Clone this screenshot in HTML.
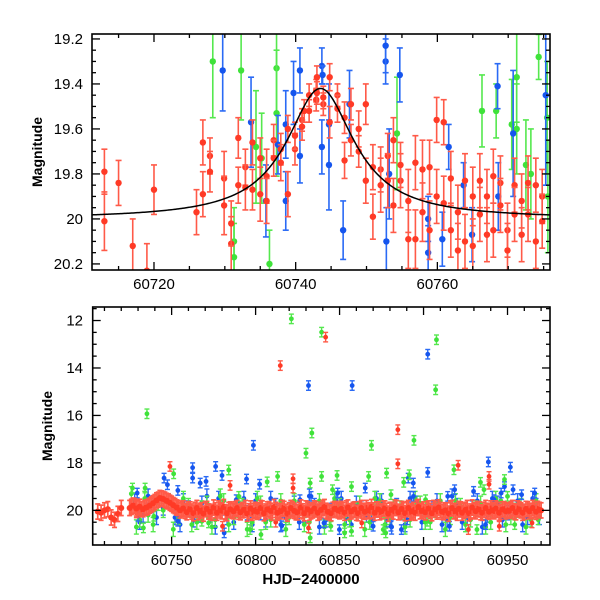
<!DOCTYPE html>
<html><head><meta charset="utf-8">
<style>
html,body{margin:0;padding:0;background:#fff;}
svg{display:block;}
text{font-family:"Liberation Sans",sans-serif;fill:#000;}
</style></head>
<body>
<svg id="chart" width="600" height="600" viewBox="0 0 600 600" xmlns="http://www.w3.org/2000/svg">
<defs>
<clipPath id="clipTop"><rect x="92" y="34" width="458" height="236"/></clipPath>
<clipPath id="clipBot"><rect x="92" y="307" width="458" height="238"/></clipPath>
</defs>
<g id="topPanel"></g>
<g id="botPanel"></g>
</svg>
<script>
// ---------- TOP PANEL DATA ----------
const redT=[60713.0,60713.0,60715.0,60717.0,60719.0,60720.0,60726.0,60726.9,60726.9,60727.9,60727.9,60729.9,60729.9,60730.9,60730.9,60731.9,60731.9,60732.9,60732.9,60733.9,60733.9,60735.0,60735.0,60735.9,60735.9,60736.9,60736.9,60737.9,60737.9,60738.9,60738.9,60739.9,60739.9,60740.9,60740.9,60741.9,60741.9,60742.9,60742.9,60743.9,60743.9,60741.2,60743.0,60743.0,60744.8,60744.8,60745.9,60745.9,60746.9,60746.9,60747.8,60747.8,60748.9,60748.9,60749.9,60749.9,60750.9,60750.9,60752.0,60752.0,60753.0,60753.0,60753.8,60753.8,60754.8,60754.8,60755.9,60755.9,60756.9,60756.9,60757.9,60757.9,60758.9,60758.9,60759.9,60759.9,60760.9,60760.9,60761.9,60761.9,60762.9,60762.9,60763.9,60763.9,60765.0,60765.0,60766.0,60766.0,60767.0,60767.0,60767.9,60767.9,60768.9,60768.9,60769.9,60769.9,60770.9,60770.9,60771.9,60771.9,60772.8,60772.8,60773.9,60773.9,60774.8,60774.8];
const redM=[19.79,20.01,19.84,20.12,20.23,19.87,19.97,19.89,19.66,19.72,19.79,19.82,19.94,20.11,20.02,19.64,19.85,19.77,19.86,19.66,19.87,19.73,19.89,19.81,19.92,19.65,19.73,19.69,19.75,19.89,19.60,19.69,19.63,19.56,19.59,19.52,19.45,19.43,19.47,19.49,19.46,19.52,19.44,19.37,19.37,19.57,19.45,19.51,19.55,19.74,19.49,19.65,19.60,19.70,19.49,19.83,19.77,19.99,19.78,19.85,19.72,19.83,19.65,19.94,19.83,19.76,19.92,20.09,19.75,20.09,19.78,19.97,19.77,20.05,19.56,19.90,19.57,19.93,19.82,20.05,19.97,20.14,19.83,20.10,19.90,20.12,19.83,19.98,19.90,20.07,19.81,20.05,19.84,19.94,20.05,20.14,19.85,19.98,19.92,20.07,19.84,19.98,19.85,20.10,19.90,20.01];
const redE=[0.10,0.13,0.10,0.12,0.12,0.11,0.10,0.10,0.10,0.08,0.09,0.12,0.13,0.12,0.10,0.09,0.08,0.08,0.10,0.10,0.09,0.09,0.12,0.12,0.10,0.07,0.08,0.07,0.08,0.10,0.06,0.07,0.06,0.05,0.06,0.05,0.05,0.05,0.05,0.05,0.05,0.05,0.05,0.05,0.06,0.07,0.05,0.06,0.07,0.08,0.07,0.07,0.08,0.07,0.09,0.10,0.10,0.10,0.10,0.12,0.10,0.12,0.10,0.12,0.12,0.10,0.14,0.13,0.12,0.13,0.13,0.13,0.12,0.13,0.10,0.12,0.10,0.12,0.12,0.12,0.12,0.12,0.12,0.12,0.13,0.12,0.12,0.12,0.12,0.12,0.12,0.12,0.12,0.12,0.12,0.12,0.12,0.12,0.12,0.12,0.12,0.12,0.12,0.12,0.12,0.12];
const blueT=[60729.7,60733.7,60735.8,60737.5,60738.6,60738.6,60739.7,60740.6,60740.6,60743.7,60743.7,60744.7,60744.7,60743.8,60746.7,60747.6,60752.7,60752.7,60754.7,60753.2,60752.8,60758.7,60758.7,60760.7,60761.6,60763.7,60764.9,60768.5,60768.6,60770.7,60775.3];
const blueM=[19.34,19.57,19.92,19.67,19.92,19.58,19.44,19.72,19.34,19.32,19.68,19.58,19.76,19.36,20.05,19.49,19.30,19.23,19.36,19.80,20.10,20.00,20.15,20.09,19.68,19.85,20.07,19.41,19.90,19.62,19.45];
const blueE=[0.18,0.20,0.16,0.13,0.13,0.15,0.14,0.12,0.10,0.08,0.12,0.18,0.20,0.04,0.13,0.15,0.10,0.12,0.12,0.20,0.15,0.10,0.12,0.12,0.10,0.10,0.12,0.10,0.15,0.28,0.40];
const greenT=[60728.3,60732.3,60734.4,60735.2,60731.3,60731.3,60737.3,60737.3,60736.3,60754.3,60766.3,60768.3,60771.2,60771.2,60774.3,60772.5,60773.2,60770.5,60775.5,60775.6];
const greenM=[19.30,19.34,19.68,19.73,20.10,20.17,19.33,19.53,20.20,19.62,19.52,19.52,19.37,19.60,19.28,19.76,19.80,19.58,19.55,19.90];
const greenE=[0.25,0.22,0.25,0.20,0.15,0.15,0.20,0.28,0.15,0.25,0.16,0.12,0.20,0.20,0.10,0.20,0.20,0.20,0.25,0.25];
const modelPeakT=[60743.5], modelPeakMag=[19.42], modelBaseMag=[20.0], modelWidth=[5.8];
const topXTicks=[60720,60740,60760];
const topYTicks=[19.2,19.4,19.6,19.8,20,20.2];
const topYTickLabels=["19.2","19.4","19.6","19.8","20","20.2"];

// ---------- BOTTOM PANEL DATA ----------
const redBandT=[60706,60708,60710,60712,60714,60716,60718,60720,60726,60728,60730,60732,60734,60736,60738,60740,60742,60744,60746,60748,60750,60752,60754,60756,60758,60760,60762,60764,60766,60768,60770,60772,60774,60776,60778,60780,60782,60784,60786,60788,60790,60792,60794,60796,60798,60800,60802,60804,60806,60808,60810,60812,60814,60816,60818,60820,60822,60824,60826,60828,60830,60832,60834,60836,60838,60840,60842,60844,60846,60848,60850,60852,60854,60856,60858,60860,60862,60864,60866,60868,60870,60872,60874,60876,60878,60880,60882,60884,60886,60888,60890,60892,60894,60896,60898,60900,60902,60904,60906,60908,60910,60912,60914,60916,60918,60920,60922,60924,60926,60928,60930,60932,60934,60936,60938,60940,60942,60944,60946,60948,60950,60952,60954,60956,60958,60960,60962,60964,60966,60968,60970];
const redBandM=[20.05,20.10,20.00,19.95,20.30,20.40,20.15,19.90,19.85,19.82,19.88,19.95,19.90,19.85,19.75,19.65,19.55,19.50,19.55,19.62,19.72,19.82,19.90,19.95,20.02,19.95,20.05,19.98,20.08,20.00,19.95,20.05,20.10,20.00,19.92,20.04,20.08,19.98,20.02,19.95,20.06,20.00,19.90,20.04,20.10,19.98,20.00,19.92,20.05,19.95,20.10,19.98,20.02,19.90,20.06,20.00,19.95,20.08,19.98,20.04,19.92,20.10,20.00,19.96,20.05,19.90,20.02,20.08,19.98,19.94,20.04,20.00,19.92,20.06,19.98,20.10,19.95,20.02,19.90,20.04,20.00,19.96,20.08,19.92,20.02,19.98,20.05,19.90,20.06,20.00,19.95,20.10,19.98,19.90,20.04,19.96,19.95,20.02,19.90,20.05,19.98,20.08,20.00,19.92,20.04,20.10,19.96,20.02,19.90,20.05,20.00,19.94,20.08,19.98,20.02,19.92,20.04,19.98,20.06,19.95,20.00,19.96,20.04,19.92,20.00,20.06,19.95,20.02,19.98,19.94,20.00];
const redBand2T=[60725,60727,60729,60731,60733,60735,60737,60739,60741,60743,60745,60747,60749,60751,60753,60755,60757,60759,60761,60763,60765,60767,60769,60771,60773,60775,60777,60779,60781,60783,60785,60787,60789,60791,60793,60795,60797,60799,60801,60803,60805,60807,60809,60811,60813,60815,60817,60819,60821,60823,60825,60827,60829,60831,60833,60835,60837,60839,60841,60843,60845,60847,60849,60851,60853,60855,60857,60859,60861,60863,60865,60867,60869,60871,60873,60875,60877,60879,60881,60883,60885,60887,60889,60891,60893,60895,60897,60899,60901,60903,60905,60907,60909,60911,60913,60915,60917,60919,60921,60923,60925,60927,60929,60931,60933,60935,60937,60939,60941,60943,60945,60947,60949,60951,60953,60955,60957,60959,60961,60963,60965,60967,60969];
const redBand2M=[19.9,19.8,19.92,19.85,19.95,19.88,19.8,19.7,19.58,19.48,19.52,19.6,19.68,19.78,19.88,20.0,19.92,20.08,19.96,20.12,19.9,20.02,20.14,19.94,20.06,19.88,20.1,20.0,19.86,20.12,19.96,20.04,19.9,20.08,19.98,20.14,19.92,20.02,20.06,19.9,20.12,19.96,20.02,19.86,20.1,20.04,19.94,20.14,19.9,20.02,20.08,19.88,20.12,19.96,20.04,19.92,20.1,19.98,19.86,20.06,20.12,19.94,20.0,19.94,20.1,19.88,20.04,19.96,20.12,19.9,20.06,20.0,19.86,20.1,19.96,20.04,19.92,20.14,19.98,19.88,20.08,19.94,20.12,19.9,20.04,20.1,19.86,20.02,20.08,19.92,20.12,19.96,19.88,20.06,20.0,20.14,19.9,20.02,19.94,20.1,19.98,20.12,19.88,20.04,19.96,20.1,19.9,20.06,20.0,19.92,20.1,19.96,20.04,20.02,19.9,20.08,19.96,20.1,19.94,20.04,19.9,20.06,19.98];
const blueBandT=[60728,60733,60738,60745,60752,60757,60763,60768,60773,60778,60783,60790,60795,60800,60806,60812,60818,60823,60829,60835,60842,60848,60854,60860,60866,60872,60878,60884,60889,60896,60902,60908,60914,60920,60926,60932,60938,60944,60950,60956,60962,60967];
const blueBandM=[19.6,20.2,19.8,19.9,20.3,19.6,20.4,19.7,20.2,19.5,20.3,19.7,20.1,19.6,20.4,19.8,20.3,19.7,20.2,19.8,20.4,19.6,20.3,19.7,20.2,19.5,20.4,19.8,20.6,19.7,20.2,19.6,20.4,19.8,20.3,19.6,20.2,19.7,20.1,19.6,20.3,19.8];
const blueBand2T=[60731,60736,60741,60748,60755,60760,60766,60771,60776,60781,60787,60793,60798,60803,60809,60815,60821,60826,60832,60838,60845,60851,60857,60863,60869,60875,60881,60887,60892,60899,60905,60911,60917,60923,60929,60935,60941,60947,60953,60959,60965,60969];
const blueBand2M=[20.5,19.4,20.3,19.6,20.6,19.9,20.2,19.4,20.7,19.9,20.5,19.5,20.6,20.1,19.5,20.6,19.9,20.5,19.4,20.7,20.0,19.5,20.6,19.9,20.4,19.6,20.7,20.1,19.5,20.5,19.9,20.6,19.4,20.5,19.9,20.7,19.5,20.4,19.9,20.6,19.5,20.3];
const greenBandT=[60726,60731,60736,60742,60748,60754,60760,60765,60771,60776,60781,60787,60792,60798,60803,60809,60815,60820,60826,60832,60838,60844,60850,60856,60862,60868,60874,60880,60886,60892,60898,60904,60910,60916,60922,60928,60934,60940,60946,60952,60958,60964];
const greenBandM=[19.3,20.4,20.2,19.7,19.6,20.3,19.8,20.5,19.7,20.4,19.6,20.3,19.8,20.5,19.7,20.4,19.6,20.3,19.9,20.5,19.6,20.3,19.8,20.4,19.7,20.5,19.6,20.3,19.9,20.4,19.7,20.5,19.6,20.3,19.8,20.4,19.7,20.5,19.6,20.3,19.8,20.4];
const greenBand2T=[60729,60734,60739,60745,60751,60757,60762,60768,60774,60779,60784,60790,60795,60801,60806,60812,60818,60823,60829,60835,60841,60847,60853,60859,60865,60871,60877,60883,60889,60895,60901,60907,60913,60919,60925,60931,60937,60943,60949,60955,60961,60967];
const greenBand2M=[20.7,19.5,20.6,20.0,20.8,19.5,20.6,19.9,20.7,19.4,20.6,20.0,20.8,19.5,20.5,20.1,20.8,19.6,20.6,19.9,20.7,19.5,20.6,20.0,20.8,19.5,20.6,19.9,20.7,19.5,20.5,20.0,20.8,19.6,20.6,19.9,20.7,19.5,20.6,20.0,20.7,19.6];
const blueOutT=[60831.5,60857.5,60902.5,60798.7,60902.5,60938.6,60951.7,60745.5,60762.5,60762.5,60776.2,60780.0,60794.6,60802.4,60890.9,60893.9,60948.2,60729.5,60747.5,60753.7,60767.0,60770.5,60730.0,60753.7,60781.3,60815.6,60840.7,60849.9,60870.0,60880.6,60886.8,60890.3,60915.4,60936.9,60788.5,60826.4,60833.0,60848.9,60865.3,60894.0,60914.4,60918.5,60929.8,60946.2,60953.3,60958.4,60966.2,60942.0];
const blueOutM=[14.74,14.74,13.42,17.26,18.40,17.96,18.18,18.64,18.20,18.64,18.15,18.53,18.68,18.90,18.64,18.85,19.00,19.27,18.92,19.16,18.85,18.78,20.25,20.46,20.95,20.65,20.53,20.81,20.67,20.67,20.81,20.40,20.67,20.60,19.55,19.55,19.41,19.27,19.06,19.41,19.41,19.13,19.20,19.27,19.13,19.34,19.27,19.55];
const greenOutT=[60735.3,60821.3,60839.3,60907.2,60907.7,60830.0,60833.5,60869.0,60894.3,60918.1,60751.2,60784.0,60806.9,60813.1,60832.5,60839.3,60848.5,60857.1,60867.3,60878.0,60888.2,60891.5,60933.9,60948.2,60726.7,60734.2,60733.2,60739.4,60768.0,60772.0,60796.7,60803.2,60832.5,60844.8,60853.0,60857.1,60876.0,60877.5,60902.1,60931.8,60954.3,60968.3,60790.0,60845.8,60880.6,60901.2,60936.0,60950.0];
const greenOutM=[15.93,11.93,12.49,14.92,12.81,17.59,16.74,17.26,17.05,18.29,18.46,18.30,18.80,18.57,18.85,18.57,18.53,19.00,18.57,18.43,18.82,18.50,18.82,18.70,19.06,19.06,20.74,20.25,20.46,20.53,20.81,21.02,21.16,20.67,20.95,20.88,20.81,20.95,20.46,20.81,20.60,20.40,19.41,19.13,19.34,19.55,19.13,19.41];
const redOutT=[60841.7,60814.7,60884.7,60884.7,60920.6,60749.0,60784.8,60822.3,60822.3,60939.0,60939.0,60780.3,60812.0,60831.5,60863.2,60926.7,60945.1,60964.6,60729.0];
const redOutM=[12.70,13.90,16.60,18.04,18.10,18.15,18.95,18.67,19.06,18.57,18.90,20.67,20.50,20.74,20.53,20.81,20.67,20.53,20.11];
const botXTicks=[60750,60800,60850,60900,60950];
const botYTicks=[12,14,16,18,20];

// ---------- AXES ----------
const TOP={x0:92,x1:550,y0:34,y1:270,t0:60711.25,t1:60775.9,m0:19.178,m1:20.227};
const BOT={x0:92.7,x1:550,y0:307,y1:545,t0:60703.0,t1:60975.3,m0:11.43,m1:21.46};
function sx(P,t){return P.x0+(t-P.t0)/(P.t1-P.t0)*(P.x1-P.x0);}
function sy(P,m){return P.y0+(m-P.m0)/(P.m1-P.m0)*(P.y1-P.y0);}
const NS='http://www.w3.org/2000/svg';
function mk(tag,attrs,parent){const e=document.createElementNS(NS,tag);for(const k in attrs)e.setAttribute(k,attrs[k]);parent.appendChild(e);return e;}

const COL={red:'#ff3a26',redBar:'#ff5a48',blue:'#1555ee',blueBar:'#2a6af5',green:'#3fe23a',greenBar:'#55e84e'};

function drawSeries(parent,P,T,M,E,eConst,col,barCol,r,cap,lw,name){
  const g=mk('g',{},parent);
  
  
  for(let i=0;i<T.length;i++){
    const x=sx(P,T[i]),y=sy(P,M[i]);const e=E?E[i]:eConst;
    const ya=sy(P,M[i]-e),yb=sy(P,M[i]+e);
    const pg=mk('g',{},g);
    
    
    mk('line',{x1:x,y1:ya,x2:x,y2:yb,stroke:barCol,'stroke-width':lw},pg);
    mk('line',{x1:x-cap,y1:ya,x2:x+cap,y2:ya,stroke:barCol,'stroke-width':lw},pg);
    mk('line',{x1:x-cap,y1:yb,x2:x+cap,y2:yb,stroke:barCol,'stroke-width':lw},pg);
    mk('circle',{cx:x,cy:y,r:r,fill:col},pg);
  }
}

function drawFrame(parent,P,xMaj,xMin,yMaj,yMin){
  const fr=mk('rect',{x:P.x0,y:P.y0,width:P.x1-P.x0,height:P.y1-P.y0,fill:'none',stroke:'#000','stroke-width':1.6},parent);
  
  
  const tk=mk('g',{stroke:'#000','stroke-width':1.3},parent);
  
  
  for(let t=Math.ceil(P.t0/xMin)*xMin;t<=P.t1;t+=xMin){
    const x=sx(P,t);const isMaj=Math.abs(t/xMaj-Math.round(t/xMaj))<1e-6;const L=isMaj?8:4;
    mk('line',{x1:x,y1:P.y1,x2:x,y2:P.y1-L},tk);mk('line',{x1:x,y1:P.y0,x2:x,y2:P.y0+L},tk);
  }
  for(let k=Math.ceil(P.m0/yMin-1e-6);k*yMin<=P.m1+1e-9;k++){
    const m=k*yMin;const y=sy(P,m);const isMaj=Math.abs(m/yMaj-Math.round(m/yMaj))<1e-6;const L=isMaj?8:4;
    mk('line',{x1:P.x0,y1:y,x2:P.x0+L,y2:y},tk);mk('line',{x1:P.x1,y1:y,x2:P.x1-L,y2:y},tk);
  }
}

// ---------- TOP PANEL ----------
const topG=document.getElementById('topPanel');
const topData=mk('g',{'clip-path':'url(#clipTop)'},topG);


drawSeries(topData,TOP,greenT,greenM,greenE,0,COL.green,COL.greenBar,3.2,3,1.6,'green-series-zoom');
drawSeries(topData,TOP,blueT,blueM,blueE,0,COL.blue,COL.blueBar,3.2,3,1.6,'blue-series-zoom');
drawSeries(topData,TOP,redT,redM,redE,0,COL.red,COL.redBar,3.2,3,1.6,'red-series-zoom');
let d='';
for(let t=TOP.t0;t<=TOP.t1;t+=0.2){
  const u=(t-modelPeakT[0])/modelWidth[0];
  const m=modelBaseMag[0]-(modelBaseMag[0]-modelPeakMag[0])/(1+u*u);
  d+=(d?'L':'M')+sx(TOP,t).toFixed(2)+','+sy(TOP,m).toFixed(2);
}
const curve=mk('path',{d:d,fill:'none',stroke:'#000','stroke-width':1.5},topData);


drawFrame(topG,TOP,20,5,0.2,0.05);
topXTicks.forEach(t=>{const e=mk('text',{x:sx(TOP,t),y:289,'text-anchor':'middle','font-size':15},topG);e.textContent=String(t);
  
  });
topYTicks.forEach((m,i)=>{const e=mk('text',{x:83,y:sy(TOP,m)+5,'text-anchor':'end','font-size':15},topG);e.textContent=topYTickLabels[i];
  
  });
const yl1=mk('text',{x:0,y:0,'text-anchor':'middle','font-size':14,'font-weight':'bold',transform:'translate(42,152) rotate(-90)'},topG);
yl1.textContent='Magnitude';



// ---------- BOTTOM PANEL ----------
const botG=document.getElementById('botPanel');
const botData=mk('g',{'clip-path':'url(#clipBot)'},botG);


drawSeries(botData,BOT,blueBandT,blueBandM,null,0.3,COL.blue,COL.blueBar,2.4,2.5,1.4,'blue-series-band');
drawSeries(botData,BOT,blueBand2T,blueBand2M,null,0.3,COL.blue,COL.blueBar,2.4,2.5,1.4,'blue-series-band-2');
drawSeries(botData,BOT,greenBandT,greenBandM,null,0.3,COL.green,COL.greenBar,2.4,2.5,1.4,'green-series-band');
drawSeries(botData,BOT,greenBand2T,greenBand2M,null,0.3,COL.green,COL.greenBar,2.4,2.5,1.4,'green-series-band-2');
drawSeries(botData,BOT,blueOutT,blueOutM,null,0.2,COL.blue,COL.blueBar,2.4,2.5,1.4,'blue-series-outliers');
drawSeries(botData,BOT,greenOutT,greenOutM,null,0.2,COL.green,COL.greenBar,2.4,2.5,1.4,'green-series-outliers');
drawSeries(botData,BOT,redOutT,redOutM,null,0.2,COL.red,COL.redBar,2.4,2.5,1.4,'red-series-outliers');
drawSeries(botData,BOT,redBandT,redBandM,null,0.32,COL.red,COL.redBar,3,2.5,1.7,'red-series-band');
drawSeries(botData,BOT,redBand2T,redBand2M,null,0.32,COL.red,COL.redBar,3,2.5,1.7,'red-series-band-2');
drawFrame(botG,BOT,50,10,2,0.5);
botXTicks.forEach(t=>{const e=mk('text',{x:sx(BOT,t),y:565,'text-anchor':'middle','font-size':15},botG);e.textContent=String(t);
  
  });
botYTicks.forEach(m=>{const e=mk('text',{x:83,y:sy(BOT,m)+5,'text-anchor':'end','font-size':15},botG);e.textContent=String(m);
  
  });
const yl2=mk('text',{x:0,y:0,'text-anchor':'middle','font-size':14,'font-weight':'bold',transform:'translate(52,426) rotate(-90)'},botG);
yl2.textContent='Magnitude';


const xl=mk('text',{x:311,y:584,'text-anchor':'middle','font-size':15,'font-weight':'bold'},botG);
xl.textContent='HJD\u22122400000';


</script>
</body></html>
